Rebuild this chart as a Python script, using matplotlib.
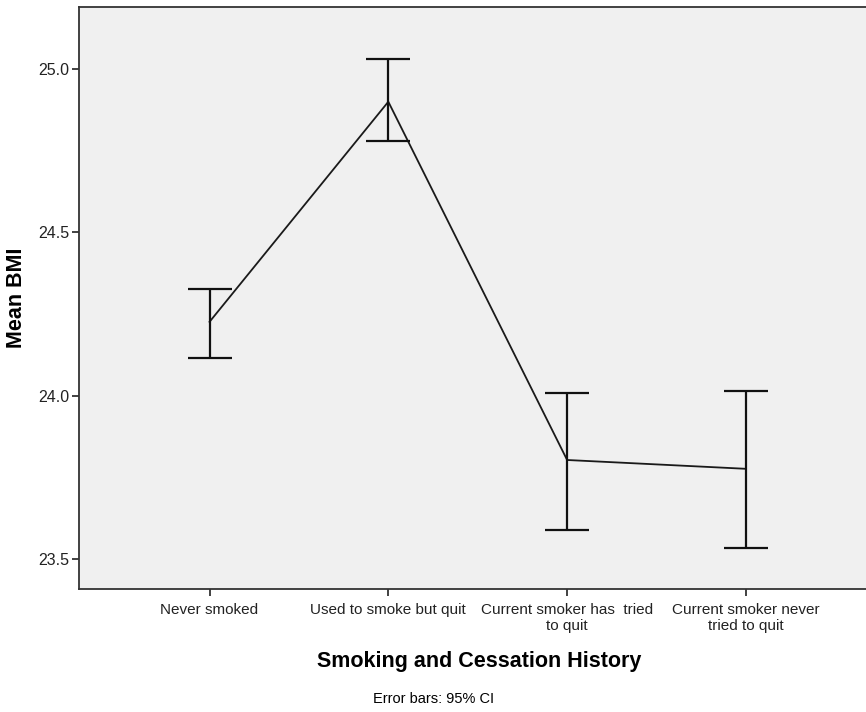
import matplotlib.pyplot as plt
import numpy as np

# Mean BMI by smoking / cessation group, with 95% CI bounds
groups = ['Never smoked', 'Used to smoke but quit',
          'Current smoker has  tried\nto quit', 'Current smoker never\ntried to quit']
mean_bmi = [24.226, 24.900, 23.803, 23.776]
ci_low = [24.116, 24.780, 23.589, 23.535]
ci_high = [24.326, 25.030, 24.009, 24.015]

plt.rcParams['font.family'] = ['Liberation Sans', 'DejaVu Sans']

x = np.arange(len(groups))
mean_arr = np.array(mean_bmi)
err = [mean_arr - np.array(ci_low), np.array(ci_high) - mean_arr]

fig = plt.figure(figsize=(8.66, 7.12), dpi=100)
ax = fig.add_axes([79 / 866, 1 - 589 / 712, 1 - 79 / 866 + 0.01, (589 - 7) / 712])
ax.set_facecolor('#f0f0f0')

ax.plot(x, mean_bmi, color='#1a1a1a', lw=1.3, zorder=3)
ax.errorbar(x, mean_bmi, yerr=err, fmt='none', ecolor='#111111',
            elinewidth=1.6, capsize=16, capthick=1.6, zorder=4)

ax.set_xlim(-0.73, 3.72)
ax.set_ylim(23.408, 25.19)
ax.set_yticks([23.5, 24.0, 24.5, 25.0])
ax.set_yticklabels(['23.5', '24.0', '24.5', '25.0'], fontsize=11.5, color='#222222')
ax.set_xticks(x)
ax.set_xticklabels(groups, fontsize=11, color='#222222', linespacing=1.2)

ax.spines['right'].set_visible(False)
for side in ['left', 'bottom', 'top']:
    ax.spines[side].set_color('#333333')
    ax.spines[side].set_linewidth(1.3)
ax.tick_params(axis='both', direction='out', length=5, width=1.3, color='#333333')
ax.tick_params(axis='x', pad=5)
ax.tick_params(axis='y', pad=2)

ax.set_ylabel('Mean BMI', fontsize=15.5, fontweight='bold', labelpad=8)
fig.text(479 / 866, 1 - 661 / 712, 'Smoking and Cessation History', ha='center', va='center',
         fontsize=15.5, fontweight='bold')
fig.text(434 / 866, 1 - 699 / 712, 'Error bars: 95% CI', ha='center', va='center', fontsize=10.5)

fig.savefig('out.png', dpi=100)
